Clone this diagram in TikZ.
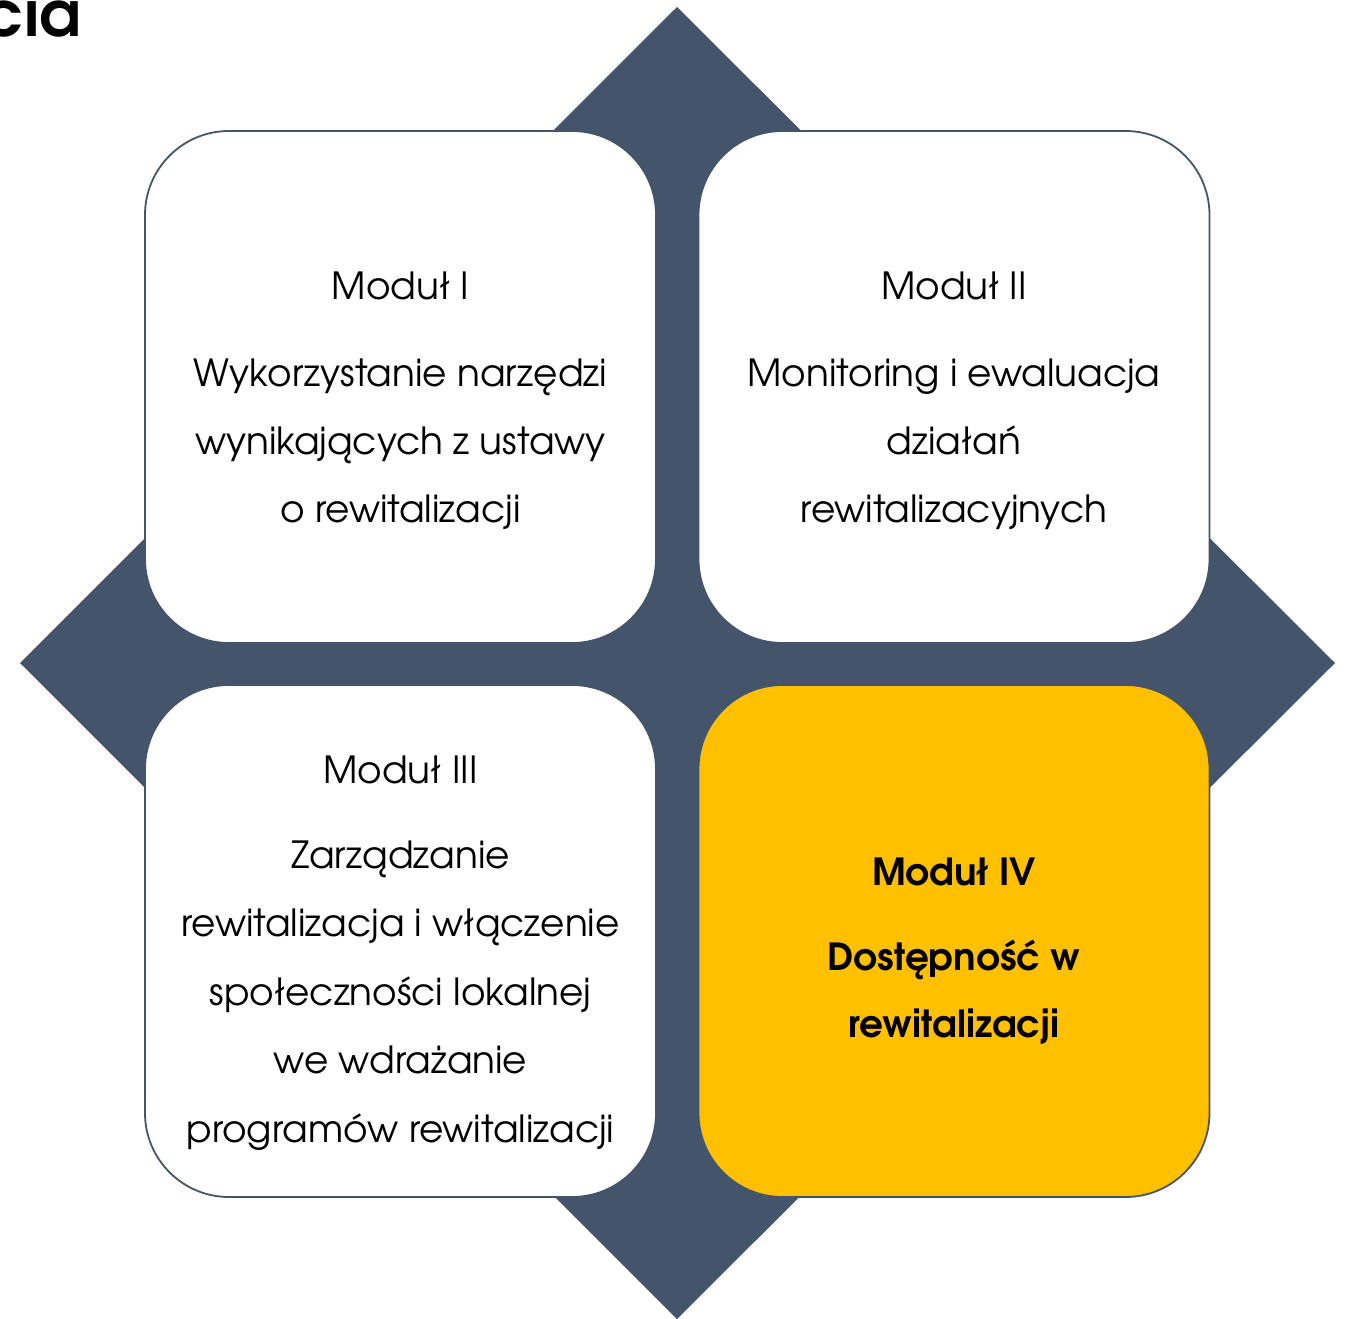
\documentclass[tikz,border=0pt]{standalone}
\usepackage{fontspec}
\setmainfont{TeX Gyre Adventor}
\definecolor{slate}{HTML}{44546A}
\definecolor{gold}{HTML}{FFC000}
\begin{document}
\begin{tikzpicture}[x=1pt,y=-1pt,
  box/.style={draw=slate,line width=1.8pt,rounded corners=84pt,minimum width=511pt,minimum height=512pt,inner sep=0pt,fill=white},
  txt/.style={anchor=base,inner sep=0pt,font=\fontsize{37.4}{44}\selectfont},
  btxt/.style={anchor=base,inner sep=0pt,font=\fontsize{37.4}{44}\selectfont\bfseries}]
\useasboundingbox (0,0) rectangle (1345,1319);
\fill[slate] (677,7) -- (1335,663) -- (677,1319) -- (20,663) -- cycle;
\node[anchor=base east,inner sep=0pt,font=\fontsize{63}{70}\selectfont\bfseries] (title) at (81,37) {cia};
\node[box] (b1) at (400.5,387) {};
\node[box] (b2) at (954,387) {};
\node[box] (b3) at (400.5,941) {};
\node[box,fill=gold] (b4) at (954,941) {};
% box 1
\node[txt] (t11) at (400.5,299) {Moduł I};
\node[txt] (t12) at (400.5,386) {Wykorzystanie narzędzi};
\node[txt] (t13) at (400.5,454) {wynikających z ustawy};
\node[txt] (t14) at (400.5,522) {o rewitalizacji};
% box 2
\node[txt] (t21) at (954,299) {Moduł II};
\node[txt] (t22) at (954,386) {Monitoring i ewaluacja};
\node[txt] (t23) at (954,454) {działań};
\node[txt] (t24) at (954,522) {rewitalizacyjnych};
% box 3
\node[txt] (t31) at (400.5,783) {Moduł III};
\node[txt] (t32) at (400.5,868) {Zarządzanie};
\node[txt] (t33) at (400.5,936) {rewitalizacja i włączenie};
\node[txt] (t34) at (400.5,1005) {społeczności lokalnej};
\node[txt] (t35) at (400.5,1073) {we wdrażanie};
\node[txt] (t36) at (400.5,1142) {programów rewitalizacji};
% box 4
\node[btxt] (t41) at (954,885) {Moduł IV};
\node[btxt] (t42) at (954,970) {Dostępność w};
\node[btxt] (t43) at (954,1037) {rewitalizacji};
\end{tikzpicture}
\end{document}
